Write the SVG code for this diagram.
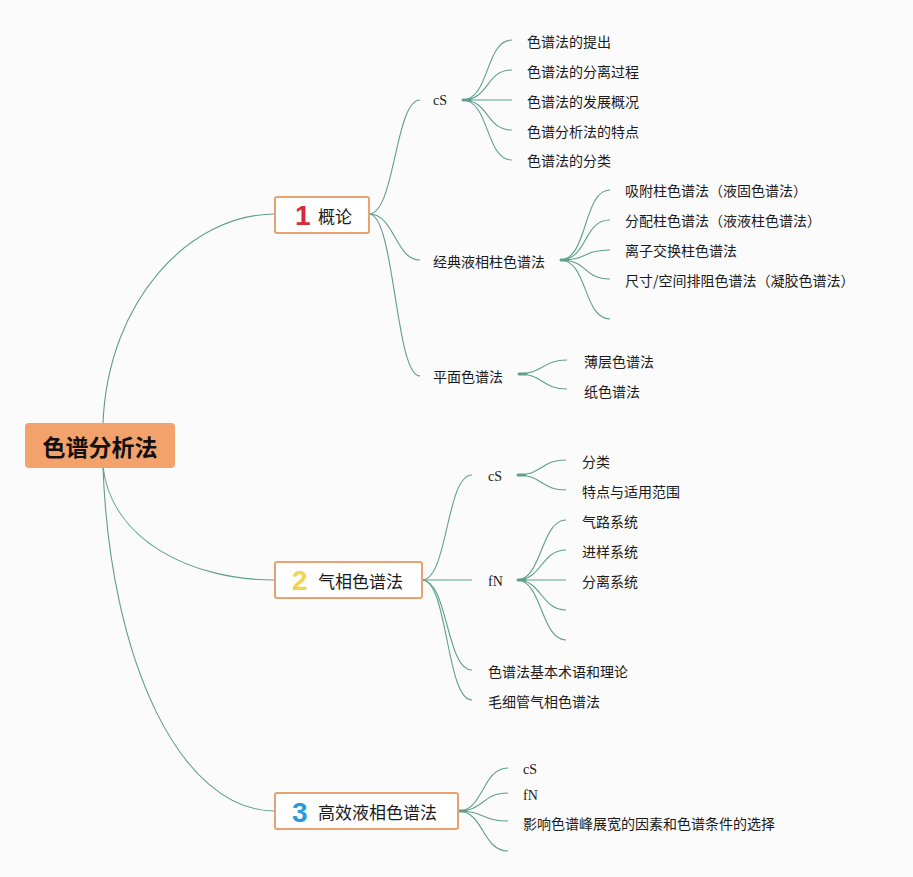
<svg xmlns="http://www.w3.org/2000/svg" width="913" height="877" viewBox="0 0 913 877">
<style>
.bg{fill:#fbfbfb}
.ln{fill:none;stroke:#5f9f8b;stroke-width:1.1}
.stub{fill:none;stroke:#5f9f8b;stroke-width:3;stroke-linecap:round}
.t{font-family:"Noto Sans CJK SC","Liberation Sans",sans-serif;font-size:14px;fill:#1a1a1a;dominant-baseline:central}
.s{font-family:"Liberation Serif","Noto Sans CJK SC",serif;font-size:14px;fill:#1a1a1a;dominant-baseline:central}
.box{fill:#ffffff;stroke:#e9a16f;stroke-width:2}
.bt{font-family:"Noto Sans CJK SC","Liberation Sans",sans-serif;font-size:17px;fill:#1a1a1a;dominant-baseline:central}
.num{font-family:"Liberation Sans","Noto Sans",sans-serif;font-size:28px;font-weight:bold}
</style>
<rect class="bg" x="0" y="0" width="913" height="877"/>
<g id="connectors">
<!-- root to branches -->
<path class="ln" d="M103,423 C108,300 190,214 275,214"/>
<path class="ln" d="M103,467 C112,540 190,580 275,580"/>
<path class="ln" d="M103,467 C110,660 180,811 275,811"/>
<!-- branch 1 -->
<path class="ln" d="M369,214 C395,214 395,100 420,100"/>
<path class="ln" d="M369,214 C395,214 395,260 420,260"/>
<path class="ln" d="M369,214 C395,214 395,376 420,376"/>
<!-- cS (1) -->
<path class="ln" d="M462,100 C490,100 485,40 512,40"/>
<path class="ln" d="M462,100 C490,100 485,70 512,70"/>
<path class="ln" d="M462,100 C490,100 485,100 512,100"/>
<path class="ln" d="M462,100 C490,100 485,130 512,130"/>
<path class="ln" d="M462,100 C490,100 485,160 512,160"/>
<path class="stub" d="M463,100 L470,100"/>
<!-- 经典液相柱色谱法 -->
<path class="ln" d="M560,260 C588,260 583,190 610,190"/>
<path class="ln" d="M560,260 C588,260 583,220 610,220"/>
<path class="ln" d="M560,260 C588,260 583,250 610,250"/>
<path class="ln" d="M560,260 C588,260 583,279 610,279"/>
<path class="ln" d="M560,260 C588,260 583,319 610,319"/>
<path class="stub" d="M561,260 L568,260"/>
<!-- 平面色谱法 -->
<path class="ln" d="M518,374 C543,374 542,360 567,360"/>
<path class="ln" d="M518,374 C543,374 542,389 567,389"/>
<path class="stub" d="M519,374 L526,374"/>
<!-- branch 2 -->
<path class="ln" d="M422,580 C448,580 446,475 472,475"/>
<path class="ln" d="M422,580 C448,580 446,580 472,580"/>
<path class="ln" d="M422,580 C448,580 446,670 472,670"/>
<path class="ln" d="M422,580 C448,580 446,700 472,700"/>
<!-- cS (2) -->
<path class="ln" d="M517,475 C542,475 541,460 566,460"/>
<path class="ln" d="M517,475 C542,475 541,490 566,490"/>
<path class="stub" d="M518,475 L525,475"/>
<!-- fN (2) -->
<path class="ln" d="M517,580 C542,580 541,520 566,520"/>
<path class="ln" d="M517,580 C542,580 541,550 566,550"/>
<path class="ln" d="M517,580 C542,580 541,580 566,580"/>
<path class="ln" d="M517,580 C542,580 541,610 566,610"/>
<path class="ln" d="M517,580 C542,580 541,640 566,640"/>
<path class="stub" d="M518,580 L525,580"/>
<!-- branch 3 -->
<path class="ln" d="M458,811 C484,811 482,768 508,768"/>
<path class="ln" d="M458,811 C484,811 482,793 508,793"/>
<path class="ln" d="M458,811 C484,811 482,821 508,821"/>
<path class="ln" d="M458,811 C484,811 482,851 508,851"/>
<path class="stub" d="M459,811 L466,811"/>
</g>
<g id="root">
<rect x="25" y="423" width="150" height="45" rx="4" fill="#f4a26c"/>
<text x="100" y="446" text-anchor="middle" font-family="Noto Sans CJK SC, Liberation Sans, sans-serif" font-size="23" font-weight="bold" fill="#111" dominant-baseline="central">色谱分析法</text>
</g>
<g id="branch1">
<rect class="box" x="275" y="197" width="94" height="36" rx="2"/>
<text class="num" x="295" y="225" fill="#d9283a">1</text>
<text class="bt" x="318" y="215">概论</text>
</g>
<g id="branch2">
<rect class="box" x="275" y="562" width="147" height="36" rx="2"/>
<text class="num" x="292" y="590" fill="#f3d34a">2</text>
<text class="bt" x="318" y="580">气相色谱法</text>
</g>
<g id="branch3">
<rect class="box" x="275" y="793" width="183" height="36" rx="2"/>
<text class="num" x="292" y="822" fill="#2a9ad8">3</text>
<text class="bt" x="318" y="811">高效液相色谱法</text>
</g>
<g id="b1-cS"><text class="s" x="433" y="100">cS</text></g>
<g id="b1-cS-1"><text class="t" x="527" y="41">色谱法的提出</text></g>
<g id="b1-cS-2"><text class="t" x="527" y="71">色谱法的分离过程</text></g>
<g id="b1-cS-3"><text class="t" x="527" y="101">色谱法的发展概况</text></g>
<g id="b1-cS-4"><text class="t" x="527" y="131">色谱分析法的特点</text></g>
<g id="b1-cS-5"><text class="t" x="527" y="160">色谱法的分类</text></g>
<g id="b1-jd"><text class="t" x="433" y="261">经典液相柱色谱法</text></g>
<g id="b1-jd-1"><text class="t" x="625" y="190">吸附柱色谱法（液固色谱法）</text></g>
<g id="b1-jd-2"><text class="t" x="625" y="220">分配柱色谱法（液液柱色谱法）</text></g>
<g id="b1-jd-3"><text class="t" x="625" y="250">离子交换柱色谱法</text></g>
<g id="b1-jd-4"><text class="t" x="625" y="280">尺寸/空间排阻色谱法（凝胶色谱法）</text></g>
<g id="b1-pm"><text class="t" x="433" y="376">平面色谱法</text></g>
<g id="b1-pm-1"><text class="t" x="584" y="361">薄层色谱法</text></g>
<g id="b1-pm-2"><text class="t" x="584" y="391">纸色谱法</text></g>
<g id="b2-cS"><text class="s" x="488" y="476">cS</text></g>
<g id="b2-cS-1"><text class="t" x="582" y="461">分类</text></g>
<g id="b2-cS-2"><text class="t" x="582" y="491">特点与适用范围</text></g>
<g id="b2-fN"><text class="s" x="488" y="581">fN</text></g>
<g id="b2-fN-1"><text class="t" x="582" y="521">气路系统</text></g>
<g id="b2-fN-2"><text class="t" x="582" y="551">进样系统</text></g>
<g id="b2-fN-3"><text class="t" x="582" y="581">分离系统</text></g>
<g id="b2-term"><text class="t" x="488" y="671">色谱法基本术语和理论</text></g>
<g id="b2-cap"><text class="t" x="488" y="701">毛细管气相色谱法</text></g>
<g id="b3-cS"><text class="s" x="523" y="769">cS</text></g>
<g id="b3-fN"><text class="s" x="523" y="795">fN</text></g>
<g id="b3-inf"><text class="t" x="523" y="823">影响色谱峰展宽的因素和色谱条件的选择</text></g>
</svg>
